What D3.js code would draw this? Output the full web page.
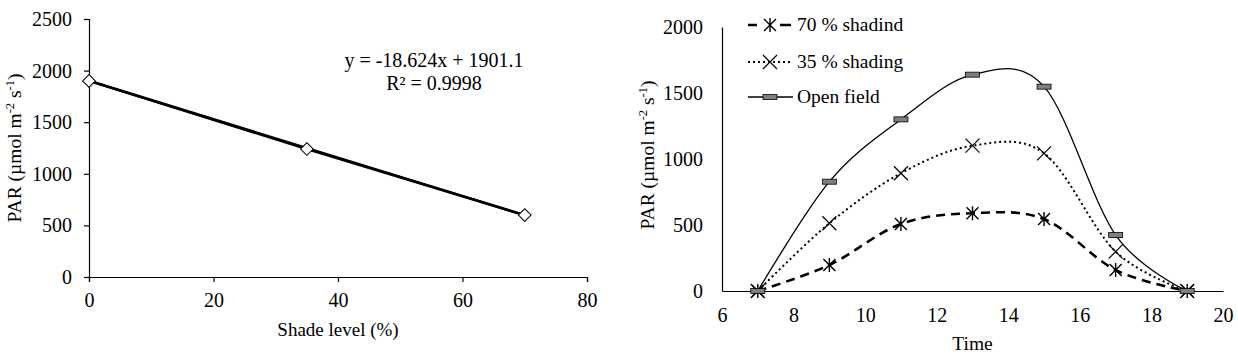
<!DOCTYPE html>
<html>
<head>
<meta charset="utf-8">
<script src="https://cdn.jsdelivr.net/npm/d3@7"></script>
<style>
  body { margin: 0; background: #fff; }
  svg text { font-family: "Liberation Serif", "Times New Roman", serif !important; fill: #000; }
</style>
</head>
<body>
<div class="chart"></div>
<script>
// left panel: PAR vs shade level
const shadeLevels = [0, 35, 70];
const shadePar = [1900, 1240, 600];
const slope = -18.624, intercept = 1901.1;
const leftYTicks = [0, 500, 1000, 1500, 2000, 2500];
const leftXTicks = [0, 20, 40, 60, 80];

// right panel: daily course of PAR
const hours = [7, 9, 11, 13, 15, 17, 19];
const par70 = [0, 197, 508, 589, 545, 159, 0];
const par35 = [0, 513, 892, 1101, 1043, 298, 0];
const parOpen = [0, 828, 1300, 1639, 1548, 424, 0];
const seriesNames = ["70 % shadind", "35 % shading", "Open field"];
const rightYTicks = [0, 500, 1000, 1500, 2000];
const rightXTicks = [6, 8, 10, 12, 14, 16, 18, 20];

const width = 1238, height = 361;
const svg = d3.select(".chart").append("svg")
  .attr("width", width)
  .attr("height", height);

const fs = 19.5;   // titles / legend
const tfs = 20;    // tick labels

function styleTicks(g) {
  g.attr("font-family", null).attr("font-size", null);
  g.selectAll("text").style("font-size", tfs + "px");
}

// ---------- left chart ----------
const xL = d3.scaleLinear().domain([0, 80]).range([89, 587]);
const yL = d3.scaleLinear().domain([0, 2500]).range([277, 19]);

const gL = svg.append("g");

gL.append("g")
  .attr("transform", "translate(" + xL(0) + ",0)")
  .call(d3.axisLeft(yL).tickValues(leftYTicks).tickSize(5).tickPadding(12).tickFormat(d3.format("d")))
  .call(styleTicks);

gL.append("g")
  .attr("transform", "translate(0," + yL(0) + ")")
  .call(d3.axisBottom(xL).tickValues(leftXTicks).tickSize(5).tickPadding(11))
  .call(styleTicks);

svg.selectAll(".domain, .tick line").attr("stroke", "#000").attr("stroke-width", 1.2);

// data line + trend line
gL.append("path")
  .datum(shadeLevels.map((s, i) => [s, shadePar[i]]))
  .attr("d", d3.line().x(d => xL(d[0])).y(d => yL(d[1])))
  .attr("fill", "none").attr("stroke", "#000").attr("stroke-width", 2.5);
gL.append("path")
  .datum([0, 70].map(s => [s, slope * s + intercept]))
  .attr("d", d3.line().x(d => xL(d[0])).y(d => yL(d[1])))
  .attr("fill", "none").attr("stroke", "#000").attr("stroke-width", 2.5);

gL.selectAll(".diamond")
  .data(shadeLevels.map((s, i) => [s, shadePar[i]]))
  .enter().append("rect")
  .attr("x", -4.5).attr("y", -4.5).attr("width", 9).attr("height", 9)
  .attr("transform", d => "translate(" + xL(d[0]) + "," + yL(d[1]) + ") rotate(45)")
  .attr("fill", "#fff").attr("stroke", "#000").attr("stroke-width", 1);

gL.append("text").attr("x", 434).attr("y", 67).attr("text-anchor", "middle").style("font-size", "20px")
  .text("y = -18.624x + 1901.1");
gL.append("text").attr("x", 434).attr("y", 90).attr("text-anchor", "middle").style("font-size", "20px")
  .text("R² = 0.9998");

function parLabel(g, x, y) {
  const t = g.append("text")
    .attr("transform", "translate(" + x + "," + y + ") rotate(-90)")
    .attr("text-anchor", "middle").style("font-size", fs + "px");
  t.append("tspan").text("PAR (µmol m");
  t.append("tspan").style("font-size", "12.5px").attr("dy", -7).text("-2");
  t.append("tspan").attr("dy", 7).text(" s");
  t.append("tspan").style("font-size", "12.5px").attr("dy", -7).text("-1");
  t.append("tspan").attr("dy", 7).text(")");
}
parLabel(gL, 21, 148);

gL.append("text").attr("x", 338).attr("y", 336).attr("text-anchor", "middle").style("font-size", "19px")
  .text("Shade level (%)");

// ---------- right chart ----------
const xR = d3.scaleLinear().domain([6, 20]).range([722, 1223]);
const yR = d3.scaleLinear().domain([0, 2000]).range([291, 27]);

const gR = svg.append("g");

gR.append("g")
  .attr("transform", "translate(" + xR(6) + ",0)")
  .call(d3.axisLeft(yR).tickValues(rightYTicks).tickSize(0).tickPadding(19).tickFormat(d3.format("d")))
  .call(styleTicks);

gR.append("g")
  .attr("transform", "translate(0," + yR(0) + ")")
  .call(d3.axisBottom(xR).tickValues(rightXTicks).tickSize(0).tickPadding(17))
  .call(styleTicks);

gR.selectAll(".domain").attr("stroke", "#000").attr("stroke-width", 1.2);

const curve = d3.line().curve(d3.curveCatmullRom.alpha(0))
  .x(d => xR(d[0])).y(d => yR(d[1]));

const styles = [
  { vals: par70, dash: "9,6", w: 2.6, marker: "star" },
  { vals: par35, dash: "2,3", w: 2, marker: "times" },
  { vals: parOpen, dash: null, w: 1.3, marker: "bar" }
];

function drawMarker(g, type, x, y) {
  if (type === "bar") {
    g.append("rect").attr("x", x - 7).attr("y", y - 2.5).attr("width", 14).attr("height", 5)
      .attr("fill", "#7f7f7f").attr("stroke", "#000").attr("stroke-width", 0.8);
  } else if (type === "times") {
    const r = 7;
    g.append("path")
      .attr("d", `M${x - r},${y - r}L${x + r},${y + r}M${x - r},${y + r}L${x + r},${y - r}`)
      .attr("stroke", "#000").attr("stroke-width", 1.2).attr("fill", "none");
  } else {
    const r = 6;
    g.append("path")
      .attr("d", `M${x - r},${y - r}L${x + r},${y + r}M${x - r},${y + r}L${x + r},${y - r}M${x},${y - r - 1}L${x},${y + r + 1}`)
      .attr("stroke", "#000").attr("stroke-width", 1.4).attr("fill", "none");
  }
}

styles.forEach(s => {
  const pts = hours.map((h, i) => [h, s.vals[i]]);
  gR.append("path").datum(pts).attr("d", curve)
    .attr("fill", "none").attr("stroke", "#000").attr("stroke-width", s.w)
    .attr("stroke-dasharray", s.dash);
  pts.forEach(p => drawMarker(gR, s.marker, xR(p[0]), yR(p[1])));
});

// legend
const legY = [25, 62, 97];
styles.forEach((s, i) => {
  const y = legY[i];
  if (s.marker === "star") {
    gR.append("path").attr("d", `M748,${y}L757,${y}M780,${y}L791,${y}`)
      .attr("stroke", "#000").attr("stroke-width", s.w);
  } else {
    gR.append("line").attr("x1", 748).attr("x2", 793).attr("y1", y).attr("y2", y)
      .attr("stroke", "#000").attr("stroke-width", s.w).attr("stroke-dasharray", s.dash);
  }
  drawMarker(gR, s.marker, 770, y);
  gR.append("text").attr("x", 797).attr("y", y + 6).style("font-size", fs + "px").text(seriesNames[i]);
});

parLabel(gR, 654, 155);

gR.append("text").attr("x", xR(13)).attr("y", 350).attr("text-anchor", "middle").style("font-size", fs + "px")
  .text("Time");
</script>
</body>
</html>
